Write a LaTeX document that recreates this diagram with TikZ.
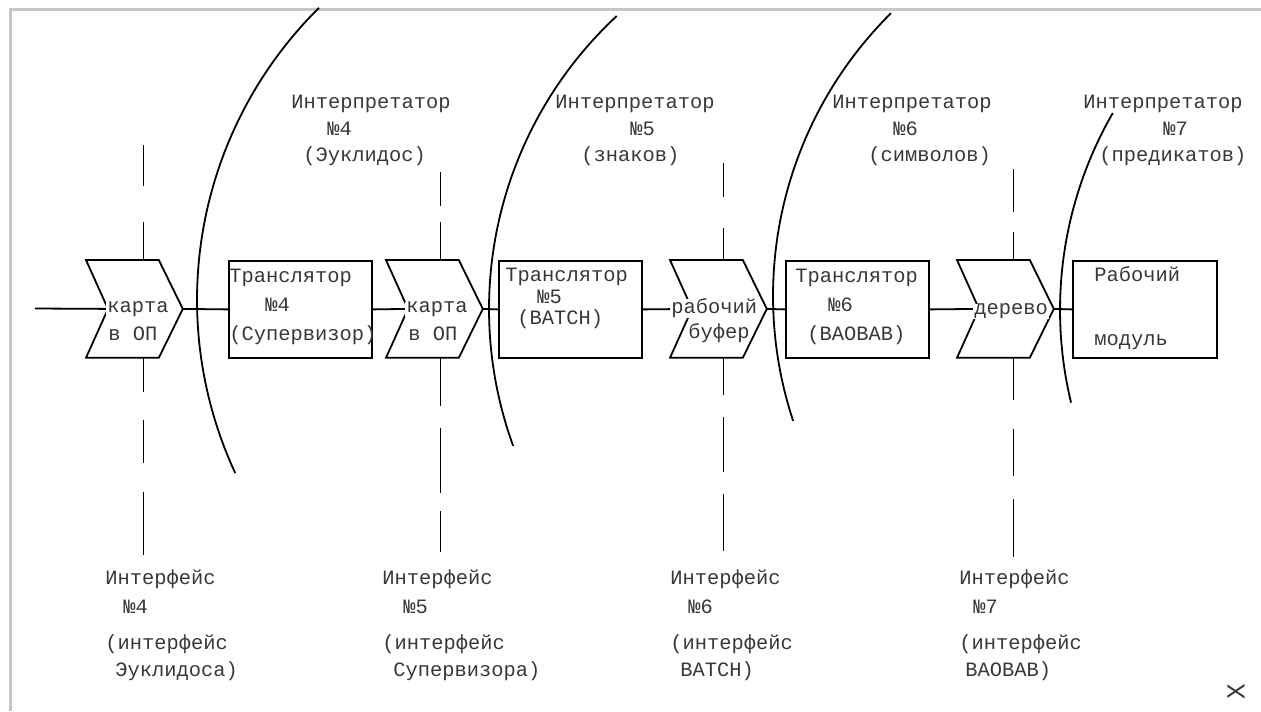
\documentclass[tikz,border=0pt]{standalone}
\usepackage{fontspec}
\newfontfamily\tw{Liberation Mono}
\newcommand\st{\rule{0pt}{8pt}}
\newcommand\chevron[1]{\draw[ln, line join=miter] (#1.north west) -- ([xshift=-12pt]#1.north east) -- (#1.east) -- ([xshift=-12pt]#1.south east) -- (#1.south west) -- ([xshift=11pt]#1.west) -- cycle;}
\begin{document}
\begin{tikzpicture}[x=0.5pt,y=-0.5pt,
  ln/.style={line width=0.9pt, black},
  box/.style={draw, line width=0.9pt, minimum width=71.5pt, minimum height=48.5pt, inner sep=0pt, anchor=north west},
  chv/.style={minimum width=48pt, minimum height=48.5pt, inner sep=0pt, anchor=north west},
  tt/.style={font=\tw\fontsize{10.2}{10.75}\selectfont, text=black!78, inner sep=0pt},
  lbl/.style={tt, anchor=north west, align=left},
  one/.style={tt, anchor=base west},
  onew/.style={one, fill=white, inner xsep=0.5pt},
  blbl/.style={lbl, font=\tw\fontsize{10.2}{14.5}\selectfont},
  ilbl/.style={lbl, font=\tw\fontsize{10.2}{13.25}\selectfont},
  flbl/.style={lbl, font=\tw\fontsize{10.2}{14.5}\selectfont}
]
\useasboundingbox (0,0) rectangle (1261,711);
% frame of the scan
\draw[gray!45, line width=1.5pt] (10,711) -- (10,10) -- (1261,10);

% boxes and chevrons
\node[chv] (c1) at (86,260) {};
\node[box] (b4) at (228,260) {};
\node[chv] (c2) at (386,260) {};
\node[box] (b5) at (498,260) {};
\node[chv] (c3) at (670,260) {};
\node[box] (b6) at (785,260) {};
\node[chv] (c4) at (957,260) {};
\node[box, minimum width=72pt] (b7) at (1072,260) {};
\chevron{c1}\chevron{c2}\chevron{c3}\chevron{c4}

% connectors
\coordinate (in) at (35,308.5);
\draw[ln] (in) -- ([xshift=11pt]c1.west);
\draw[ln] (c1.east) -- (b4.west);
\draw[ln] (b4.east) -- ([xshift=11pt]c2.west);
\draw[ln] (c2.east) -- (b5.west);
\draw[ln] (b5.east) -- ([xshift=11pt]c3.west);
\draw[ln] (c3.east) -- (b6.west);
\draw[ln] (b6.east) -- ([xshift=11pt]c4.west);
\draw[ln] (c4.east) -- (b7.west);

% interface (dashed) lines
\draw[ln] ([xshift=4.5pt]c1.north) -- ++(0,-38) ++(0,-36) -- ++(0,-41);
\draw[ln] ([xshift=4.5pt]c1.south) -- ++(0,34) ++(0,28) -- ++(0,43) ++(0,29) -- ++(0,63);
\draw[ln] ([xshift=3pt]c2.north) -- ++(0,-38) ++(0,-16) -- ++(0,-34);
\draw[ln] ([xshift=3pt]c2.south) -- ++(0,48) ++(0,22) -- ++(0,65) ++(0,18) -- ++(0,41);
\draw[ln] ([xshift=2.5pt]c3.north) -- ++(0,-32) ++(0,-31) -- ++(0,-34);
\draw[ln] ([xshift=2.5pt]c3.south) -- ++(0,37) ++(0,22) -- ++(0,55) ++(0,22) -- ++(0,57);
\draw[ln] ([xshift=4pt]c4.north) -- ++(0,-28) ++(0,-20) -- ++(0,-43);
\draw[ln] ([xshift=4pt]c4.south) -- ++(0,42) ++(0,29) -- ++(0,47) ++(0,23) -- ++(0,58);

% interpreter boundaries (arcs)
\draw[ln, domain=155.1:225.3, samples=90] plot ({608+411*cos(\x)},{300+411*sin(\x)});
\draw[ln, domain=160:227.1, samples=90] plot ({889+400*cos(\x)},{309+400*sin(\x)});
\draw[ln, domain=161.7:225.3, samples=90] plot ({1171+398*cos(\x)},{296+398*sin(\x)});
\draw[ln, domain=166.4:210, samples=60] plot ({1454+394*cos(\x)},{310+394*sin(\x)});

% chevron texts
\node[onew] (t1a) at (106,312.5) {карта};
\node[one]  (t1b) at (108,340.5) {в ОП};
\node[onew] (t2a) at (405,312.5) {карта};
\node[one]  (t2b) at (408,340.5) {в ОП};
\node[onew] (t3a) at (670,313.5) {рабочий};
\node[one]  (t3b) at (688,338.5) {буфер};
\node[onew] (t4a) at (973,314.5) {дерево};

% box texts
\node[blbl] (tb4) at (229,266.5) {\st Транслятор\\\hspace*{18pt}№4\\(Супервизор)};
\node[lbl]  (tb5) at (505,265.5) {\st Транслятор\\\hspace*{16pt}№5\\\hspace*{6pt}(BATCH)};
\node[blbl] (tb6) at (795,266.5) {\st Транслятор\\\hspace*{16.5pt}№6\\\hspace*{6pt}(BAOBAB)};
\node[lbl]  (tb7) at (1094,265.5) {\st Рабочий\\[21.25pt]модуль};

% interpreter labels
\node[ilbl] (i4) at (291,92.5) {\st Интерпретатор\\\hspace*{18pt}№4\\\hspace*{6pt}(Эуклидос)};
\node[ilbl] (i5) at (555,92.5) {\st Интерпретатор\\\hspace*{37.5pt}№5\\\hspace*{13pt}(знаков)};
\node[ilbl] (i6) at (832,92.5) {\st Интерпретатор\\\hspace*{30.5pt}№6\\\hspace*{18pt}(символов)};
\node[ilbl] (i7) at (1083,92.5) {\st Интерпретатор\\\hspace*{40pt}№7\\\hspace*{8pt}(предикатов)};

% interface labels
\node[flbl] (f4) at (105,568) {\st Интерфейс\\\hspace*{9pt}№4\\[3.5pt](интерфейс\\[-1pt]\hspace*{5pt}Эуклидоса)};
\node[flbl] (f5) at (382,568) {\st Интерфейс\\\hspace*{10.5pt}№5\\[3.5pt](интерфейс\\[-1pt]\hspace*{5.5pt}Супервизора)};
\node[flbl] (f6) at (670,568) {\st Интерфейс\\\hspace*{9pt}№6\\[3.5pt](интерфейс\\[-1pt]\hspace*{5pt}BATCH)};
\node[flbl] (f7) at (959,568) {\st Интерфейс\\\hspace*{7pt}№7\\[3.5pt](интерфейс\\[-1pt]\hspace*{3pt}BAOBAB)};

% corner mark
\node[tt, font=\tw\fontsize{13}{13}\selectfont, rotate=90] (mark) at (1236,692) {Х};
\end{tikzpicture}
\end{document}
